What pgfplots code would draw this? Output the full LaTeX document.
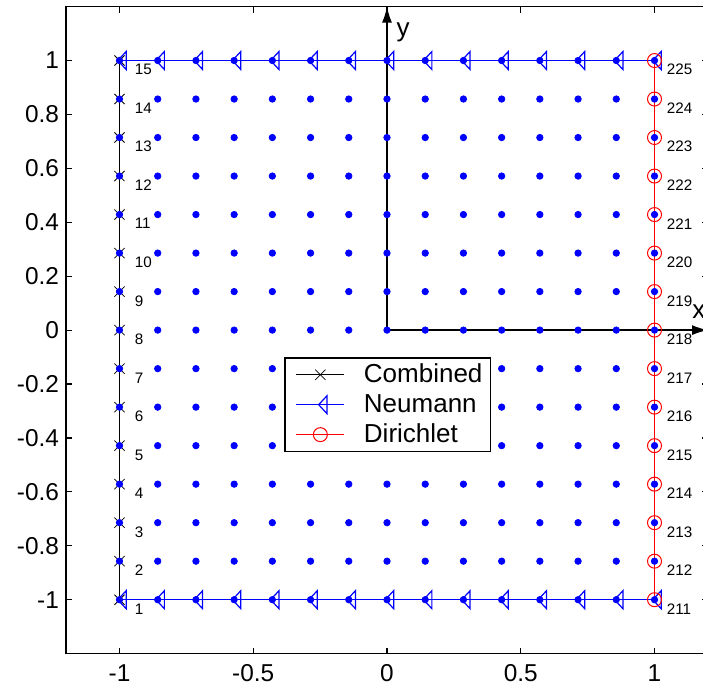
\documentclass[border=0pt]{standalone}
\usepackage{pgfplots}
\pgfplotsset{compat=1.18}
\usepackage{fontspec}
\setmainfont{Liberation Sans}
\usetikzlibrary{arrows.meta}

\pgfdeclareplotmark{ltri}{%
 \pgfpathmoveto{\pgfqpoint{-0.19\pgfplotmarksize}{0pt}}%
 \pgfpathlineto{\pgfqpoint{0.74\pgfplotmarksize}{\pgfplotmarksize}}%
 \pgfpathlineto{\pgfqpoint{0.74\pgfplotmarksize}{-\pgfplotmarksize}}%
 \pgfpathclose
 \pgfusepathqstroke}

\begin{document}
\begin{tikzpicture}
\begin{axis}[
 scale only axis, width=321pt, height=323.5pt,
 xmin=-1.2, xmax=1.2, ymin=-1.2, ymax=1.2,
 xtick={-1,-0.5,0,0.5,1}, xticklabels={-1,-0.5,0,0.5,1},
 ytick={-1,-0.8,-0.6,-0.4,-0.2,0,0.2,0.4,0.6,0.8,1},
 yticklabels={-1,-0.8,-0.6,-0.4,-0.2,0,0.2,0.4,0.6,0.8,1},
 tick align=inside, major tick length=3pt,
 axis line style={line width=0.75pt, black},
 every tick/.style={black, line width=0.6pt},
 ticklabel style={font=\fontsize{12.2}{14}\selectfont},
 xticklabel style={yshift=-2pt},
 clip=false,
 legend style={at={(axis cs:-0.385,-0.1)}, anchor=north west, draw=black, line width=0.75pt,
   font=\fontsize{13}{15}\selectfont, inner xsep=2pt, inner ysep=1pt, row sep=0.3pt},
 legend cell align=left,
 legend image code/.code={\path (-3.5pt,0pt) (31.5pt,0pt);\draw[mark repeat=2, mark phase=2, #1] plot coordinates {(0pt,0pt) (12pt,0pt) (24pt,0pt)};},
]
% coordinate arrows
\addplot[black, line width=0.75pt, -{Latex[length=8pt,width=5pt]}, forget plot] coordinates {(0,0) (0,1.2)};
\addplot[black, line width=0.75pt, -{Latex[length=8pt,width=5pt]}, forget plot] coordinates {(0,0) (1.2,0)};

% Combined (left edge)
\addplot[black, line width=0.5pt, mark=x, mark size=3.6pt, mark options={solid, line width=0.4pt}] coordinates {
(-1,-1) (-1,-0.8571) (-1,-0.7143) (-1,-0.5714) (-1,-0.4286) (-1,-0.2857) (-1,-0.1429) (-1,0)
(-1,0.1429) (-1,0.2857) (-1,0.4286) (-1,0.5714) (-1,0.7143) (-1,0.8571) (-1,1)};
\addlegendentry{Combined\hspace{9.5pt}}

% Neumann (bottom and top edges)
\addplot[blue, line width=0.6pt, mark=ltri, mark size=4.5pt] coordinates {
(-1,-1) (-0.8571,-1) (-0.7143,-1) (-0.5714,-1) (-0.4286,-1) (-0.2857,-1) (-0.1429,-1) (0,-1)
(0.1429,-1) (0.2857,-1) (0.4286,-1) (0.5714,-1) (0.7143,-1) (0.8571,-1) (1,-1)};
\addlegendentry{Neumann}
\addplot[blue, line width=0.6pt, mark=ltri, mark size=4.5pt, forget plot] coordinates {
(-1,1) (-0.8571,1) (-0.7143,1) (-0.5714,1) (-0.4286,1) (-0.2857,1) (-0.1429,1) (0,1)
(0.1429,1) (0.2857,1) (0.4286,1) (0.5714,1) (0.7143,1) (0.8571,1) (1,1)};

% Dirichlet (right edge)
\addplot[red, line width=0.6pt, mark=o, mark size=3.5pt, mark options={line width=0.5pt}] coordinates {
(1,-1) (1,-0.8571) (1,-0.7143) (1,-0.5714) (1,-0.4286) (1,-0.2857) (1,-0.1429) (1,0)
(1,0.1429) (1,0.2857) (1,0.4286) (1,0.5714) (1,0.7143) (1,0.8571) (1,1)};
\addlegendentry{Dirichlet}

% grid nodes
\addplot[only marks, mark=*, mark size=1.6pt, blue, forget plot] coordinates {
(-1,-1) (-0.8571,-1) (-0.7143,-1) (-0.5714,-1) (-0.4286,-1) (-0.2857,-1) (-0.1429,-1) (0,-1) (0.1429,-1) (0.2857,-1) (0.4286,-1) (0.5714,-1) (0.7143,-1) (0.8571,-1) (1,-1)
(-1,-0.8571) (-0.8571,-0.8571) (-0.7143,-0.8571) (-0.5714,-0.8571) (-0.4286,-0.8571) (-0.2857,-0.8571) (-0.1429,-0.8571) (0,-0.8571) (0.1429,-0.8571) (0.2857,-0.8571) (0.4286,-0.8571) (0.5714,-0.8571) (0.7143,-0.8571) (0.8571,-0.8571) (1,-0.8571)
(-1,-0.7143) (-0.8571,-0.7143) (-0.7143,-0.7143) (-0.5714,-0.7143) (-0.4286,-0.7143) (-0.2857,-0.7143) (-0.1429,-0.7143) (0,-0.7143) (0.1429,-0.7143) (0.2857,-0.7143) (0.4286,-0.7143) (0.5714,-0.7143) (0.7143,-0.7143) (0.8571,-0.7143) (1,-0.7143)
(-1,-0.5714) (-0.8571,-0.5714) (-0.7143,-0.5714) (-0.5714,-0.5714) (-0.4286,-0.5714) (-0.2857,-0.5714) (-0.1429,-0.5714) (0,-0.5714) (0.1429,-0.5714) (0.2857,-0.5714) (0.4286,-0.5714) (0.5714,-0.5714) (0.7143,-0.5714) (0.8571,-0.5714) (1,-0.5714)
(-1,-0.4286) (-0.8571,-0.4286) (-0.7143,-0.4286) (-0.5714,-0.4286) (-0.4286,-0.4286) (-0.2857,-0.4286) (-0.1429,-0.4286) (0,-0.4286) (0.1429,-0.4286) (0.2857,-0.4286) (0.4286,-0.4286) (0.5714,-0.4286) (0.7143,-0.4286) (0.8571,-0.4286) (1,-0.4286)
(-1,-0.2857) (-0.8571,-0.2857) (-0.7143,-0.2857) (-0.5714,-0.2857) (-0.4286,-0.2857) (-0.2857,-0.2857) (-0.1429,-0.2857) (0,-0.2857) (0.1429,-0.2857) (0.2857,-0.2857) (0.4286,-0.2857) (0.5714,-0.2857) (0.7143,-0.2857) (0.8571,-0.2857) (1,-0.2857)
(-1,-0.1429) (-0.8571,-0.1429) (-0.7143,-0.1429) (-0.5714,-0.1429) (-0.4286,-0.1429) (-0.2857,-0.1429) (-0.1429,-0.1429) (0,-0.1429) (0.1429,-0.1429) (0.2857,-0.1429) (0.4286,-0.1429) (0.5714,-0.1429) (0.7143,-0.1429) (0.8571,-0.1429) (1,-0.1429)
(-1,0) (-0.8571,0) (-0.7143,0) (-0.5714,0) (-0.4286,0) (-0.2857,0) (-0.1429,0) (0,0) (0.1429,0) (0.2857,0) (0.4286,0) (0.5714,0) (0.7143,0) (0.8571,0) (1,0)
(-1,0.1429) (-0.8571,0.1429) (-0.7143,0.1429) (-0.5714,0.1429) (-0.4286,0.1429) (-0.2857,0.1429) (-0.1429,0.1429) (0,0.1429) (0.1429,0.1429) (0.2857,0.1429) (0.4286,0.1429) (0.5714,0.1429) (0.7143,0.1429) (0.8571,0.1429) (1,0.1429)
(-1,0.2857) (-0.8571,0.2857) (-0.7143,0.2857) (-0.5714,0.2857) (-0.4286,0.2857) (-0.2857,0.2857) (-0.1429,0.2857) (0,0.2857) (0.1429,0.2857) (0.2857,0.2857) (0.4286,0.2857) (0.5714,0.2857) (0.7143,0.2857) (0.8571,0.2857) (1,0.2857)
(-1,0.4286) (-0.8571,0.4286) (-0.7143,0.4286) (-0.5714,0.4286) (-0.4286,0.4286) (-0.2857,0.4286) (-0.1429,0.4286) (0,0.4286) (0.1429,0.4286) (0.2857,0.4286) (0.4286,0.4286) (0.5714,0.4286) (0.7143,0.4286) (0.8571,0.4286) (1,0.4286)
(-1,0.5714) (-0.8571,0.5714) (-0.7143,0.5714) (-0.5714,0.5714) (-0.4286,0.5714) (-0.2857,0.5714) (-0.1429,0.5714) (0,0.5714) (0.1429,0.5714) (0.2857,0.5714) (0.4286,0.5714) (0.5714,0.5714) (0.7143,0.5714) (0.8571,0.5714) (1,0.5714)
(-1,0.7143) (-0.8571,0.7143) (-0.7143,0.7143) (-0.5714,0.7143) (-0.4286,0.7143) (-0.2857,0.7143) (-0.1429,0.7143) (0,0.7143) (0.1429,0.7143) (0.2857,0.7143) (0.4286,0.7143) (0.5714,0.7143) (0.7143,0.7143) (0.8571,0.7143) (1,0.7143)
(-1,0.8571) (-0.8571,0.8571) (-0.7143,0.8571) (-0.5714,0.8571) (-0.4286,0.8571) (-0.2857,0.8571) (-0.1429,0.8571) (0,0.8571) (0.1429,0.8571) (0.2857,0.8571) (0.4286,0.8571) (0.5714,0.8571) (0.7143,0.8571) (0.8571,0.8571) (1,0.8571)
(-1,1) (-0.8571,1) (-0.7143,1) (-0.5714,1) (-0.4286,1) (-0.2857,1) (-0.1429,1) (0,1) (0.1429,1) (0.2857,1) (0.4286,1) (0.5714,1) (0.7143,1) (0.8571,1) (1,1)
};

% node numbers, left edge
\addplot[only marks, mark=none, forget plot, point meta=explicit symbolic, nodes near coords,
  nodes near coords style={anchor=west, xshift=7.5pt, yshift=-4.6pt, inner sep=0pt, black,
  font=\fontsize{7.6}{9}\selectfont}] table[meta=lab] {
x y lab
-1 -1 1
-1 -0.8571 2
-1 -0.7143 3
-1 -0.5714 4
-1 -0.4286 5
-1 -0.2857 6
-1 -0.1429 7
-1 0 8
-1 0.1429 9
-1 0.2857 10
-1 0.4286 11
-1 0.5714 12
-1 0.7143 13
-1 0.8571 14
-1 1 15
};
% node numbers, right edge
\addplot[only marks, mark=none, forget plot, point meta=explicit symbolic, nodes near coords,
  nodes near coords style={anchor=west, xshift=6pt, yshift=-4.6pt, inner sep=0pt, black,
  font=\fontsize{7.6}{9}\selectfont}] table[meta=lab] {
x y lab
1 -1 211
1 -0.8571 212
1 -0.7143 213
1 -0.5714 214
1 -0.4286 215
1 -0.2857 216
1 -0.1429 217
1 0 218
1 0.1429 219
1 0.2857 220
1 0.4286 221
1 0.5714 222
1 0.7143 223
1 0.8571 224
1 1 225
};

\node[font=\fontsize{13}{15}\selectfont] at (axis cs:0.06,1.106) {y};
\node[font=\fontsize{13}{15}\selectfont] at (axis cs:1.166,0.067) {x};

\coordinate (BL) at (axis cs:-1.4467,-1.358);
\coordinate (TR) at (axis cs:1.1813,1.2245);
\end{axis}
\pgfresetboundingbox
\path[use as bounding box] (BL) rectangle (TR);
\end{tikzpicture}
\end{document}
